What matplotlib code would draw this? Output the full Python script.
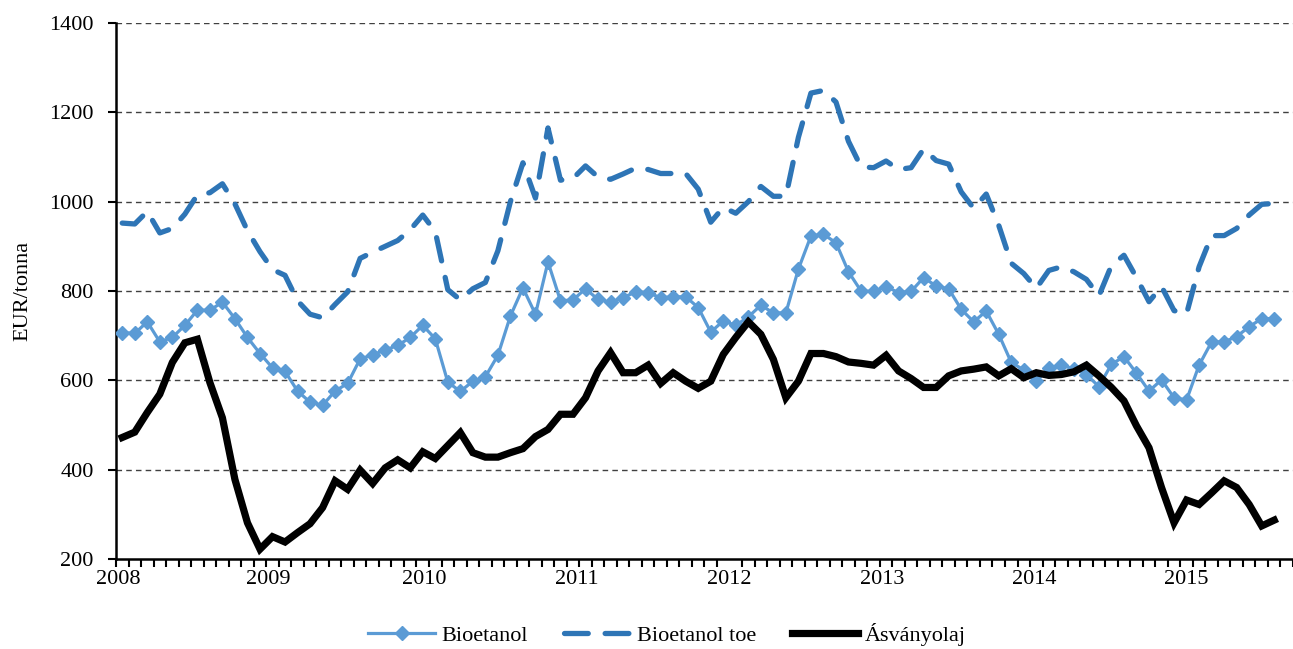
import numpy as np
import matplotlib
matplotlib.use("Agg")
import matplotlib.pyplot as plt

# havi adatok, 2008 január - 2015 szeptember (EUR/tonna)
bioetanol = [707, 705, 731, 686, 696, 723, 757, 757, 775, 738,
             696, 660, 628, 620, 576, 551, 544, 576, 593, 648,
             657, 668, 678, 696, 723, 693, 596, 575, 598, 608,
             656, 744, 807, 748, 865, 778, 780, 805, 781, 775,
             785, 798, 796, 785, 787, 787, 763, 708, 733, 723,
             742, 768, 751, 751, 849, 923, 927, 908, 843, 800,
             799, 810, 796, 799, 830, 811, 805, 759, 731, 755,
             703, 640, 623, 598, 628, 634, 626, 613, 586, 636,
             653, 616, 576, 601, 561, 556, 634, 686, 686, 698,
             720, 738, 738]

bioetanol_toe = [952, 950, 978, 930, 940, 972, 1015, 1020, 1040, 995,
                 935, 888, 848, 835, 778, 748, 740, 770, 798, 873,
                 887, 900, 913, 937, 970, 933, 803, 780, 805, 819,
                 890, 1000, 1087, 1008, 1165, 1048, 1052, 1080, 1055, 1050,
                 1062, 1075, 1072, 1063, 1063, 1063, 1028, 954, 987, 974,
                 1000, 1034, 1012, 1012, 1144, 1243, 1249, 1223, 1135, 1078,
                 1076, 1091, 1072, 1076, 1118, 1092, 1084, 1022, 985, 1017,
                 947, 862, 839, 806, 846, 854, 843, 826, 789, 857,
                 880, 830, 776, 810, 756, 749, 854, 924, 924, 940,
                 970, 994, 996]

asvanyolaj = [472, 484, 528, 569, 640, 684, 692, 595, 516, 378,
              281, 222, 250, 238, 259, 279, 315, 375, 356, 399,
              369, 404, 422, 404, 440, 425, 454, 483, 438, 428,
              428, 438, 447, 474, 490, 524, 524, 561, 621, 662,
              617, 617, 634, 593, 617, 598, 582, 598, 658, 696,
              731, 703, 647, 561, 598, 660, 660, 653, 641, 638,
              634, 656, 621, 604, 584, 584, 610, 621, 625, 630,
              610, 626, 606, 617, 611, 613, 619, 634, 610, 584,
              554, 498, 449, 360, 281, 332, 322, 348, 375, 360,
              322, 274, 287]

evek = ["2008", "2009", "2010", "2011", "2012", "2013", "2014", "2015"]
ev_pozicio = [-0.34, 11.63, 24.08, 36.29, 48.5, 60.7, 72.8, 84.97]

plt.rcParams["font.family"] = ["Liberation Serif", "DejaVu Serif"]

fig = plt.figure(figsize=(12.93, 6.49), dpi=100)
ax = fig.add_axes([0.0897, 0.1387, 0.9103, 0.8259])

x = np.arange(len(bioetanol))
ax.plot(x, bioetanol, color="#5B9BD5", lw=2.3, marker="D", ms=7,
        label="Bioetanol", zorder=3)
ax.plot(x, bioetanol_toe, color="#2E75B6", lw=3.8, dashes=(4.5, 3.2),
        dash_capstyle="round", solid_capstyle="round", label="Bioetanol toe", zorder=3)
ax.plot(x, asvanyolaj, color="black", lw=5.2, solid_joinstyle="miter",
        label="Ásványolaj", zorder=4)

ax.set_ylim(200, 1400)
ax.set_yticks(range(200, 1401, 200))
ax.set_xlim(-0.5, len(bioetanol) + 0.5)

for y in range(400, 1401, 200):
    ax.axhline(y, color="#404040", lw=1.0, ls=(0, (4, 3)), zorder=1)

ax.set_xticks(ev_pozicio)
ax.set_xticklabels(evek)
ax.set_xticks(np.arange(-0.5, len(bioetanol) + 1, 1), minor=True)
ax.tick_params(axis="x", which="major", length=0, pad=8, labelsize=16)
ax.tick_params(axis="x", which="minor", length=6, width=1.5, direction="out")
ax.tick_params(axis="y", length=6, width=1.5, direction="out", labelsize=16, pad=10)

for s in ["top", "right"]:
    ax.spines[s].set_visible(False)
ax.spines["left"].set_linewidth(1.8)
ax.spines["bottom"].set_linewidth(1.8)

ax.set_ylabel("EUR/tonna", fontsize=16, labelpad=12)

fig.legend(*ax.get_legend_handles_labels(), loc="center", bbox_to_anchor=(0.516, 0.022),
           ncol=3, frameon=False, fontsize=16, handlelength=3.0,
           columnspacing=1.6, handletextpad=0.3, borderaxespad=0)

plt.savefig("out.png", dpi=100)
